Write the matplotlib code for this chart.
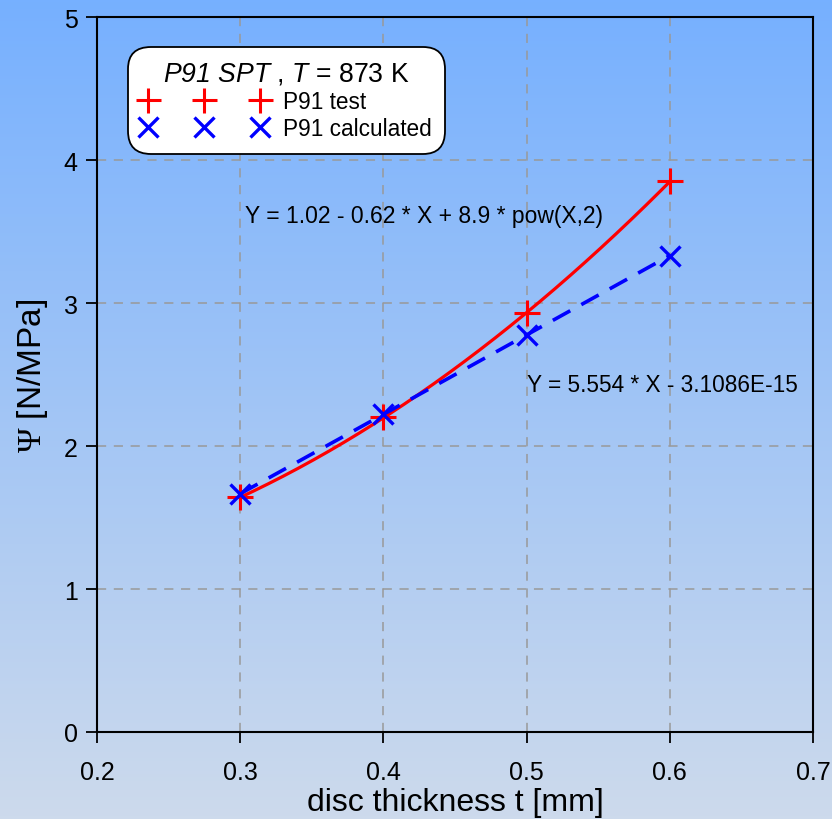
import numpy as np
import matplotlib
matplotlib.use('Agg')
import matplotlib.pyplot as plt
from matplotlib.lines import Line2D

# data
thickness = [0.3, 0.4, 0.5, 0.6]
psi_test = [1.64, 2.20, 2.93, 3.85]
psi_calc = [1.666, 2.222, 2.777, 3.332]

eq_test = 'Y = 1.02 - 0.62 * X + 8.9 * pow(X,2)'
eq_calc = 'Y = 5.554 * X - 3.1086E-15'

x_ticks = [0.2, 0.3, 0.4, 0.5, 0.6, 0.7]
y_ticks = [0, 1, 2, 3, 4, 5]

plt.rcParams['font.family'] = ['Liberation Sans', 'DejaVu Sans']
plt.rcParams['mathtext.fontset'] = 'custom'
plt.rcParams['mathtext.rm'] = 'Liberation Sans'
plt.rcParams['mathtext.it'] = 'Liberation Sans:italic'
# used for the italic title (digits stay italic this way)
plt.rcParams['mathtext.bf'] = 'Liberation Sans:italic'
plt.rcParams['mathtext.sf'] = 'Liberation Serif'

fig = plt.figure(figsize=(8.32, 8.2), dpi=100)

# background gradient over the whole figure
bg = fig.add_axes([0, 0, 1, 1], zorder=-10)
top = np.array([118, 176, 255]) / 255
bottom = np.array([205, 218, 236]) / 255
t = np.linspace(0, 1, 256)[:, None]
grad = top * (1 - t) + bottom * t
bg.imshow(grad[:, None, :], aspect='auto', extent=[0, 1, 0, 1])
bg.axis('off')

ax = fig.add_axes([0.1166, 0.1061, 0.8606, 0.8719])
ax.set_facecolor('none')

# fitted curves through the points
xs = np.linspace(thickness[0], thickness[-1], 200)
p2 = np.polyfit(thickness, psi_test, 2)
p1 = np.polyfit(thickness, psi_calc, 1)
ax.plot(xs, np.polyval(p2, xs), color='red', lw=2.3, zorder=3)
ax.plot(xs, np.polyval(p1, xs), color='#0000ff', lw=2.6, ls=(0, (5.5, 3.5)), zorder=3)

ax.plot(thickness, psi_test, ls='none', marker='+', ms=19, mew=2.2, color='red', zorder=4)
ax.plot(thickness, psi_calc, ls='none', marker='x', ms=15, mew=2.4, color='#0000ff', zorder=4)

ax.text(0.3034, 3.615, eq_test, fontsize=16.5, va='center', ha='left')
ax.text(0.5003, 2.43, eq_calc, fontsize=16.3, va='center', ha='left')

ax.set_xlim(0.2, 0.7)
ax.set_ylim(0, 5)
ax.set_xticks(x_ticks)
ax.set_yticks(y_ticks)
ax.set_xticklabels([f'{v:.1f}' for v in x_ticks], fontsize=18)
ax.set_yticklabels([str(v) for v in y_ticks], fontsize=18)
ax.tick_params(direction='out', length=8, width=1.3)
ax.tick_params(axis='x', pad=12)
ax.tick_params(axis='y', pad=6)
ax.grid(True, color='#999999', ls=(0, (6, 5)), lw=1.1)
ax.set_axisbelow(True)
for s in ax.spines.values():
    s.set_linewidth(1.5)

ax.set_xlabel('disc thickness t [mm]', fontsize=23, labelpad=2)
ax.set_ylabel(r'$\mathsf{\Psi}$ [N/MPa]', fontsize=24, labelpad=10)

handles = [
    Line2D([], [], ls='none', marker='+', ms=18, mew=2.2, color='red'),
    Line2D([], [], ls='none', marker='x', ms=14, mew=2.4, color='#0000ff'),
]
leg = ax.legend(handles, ['P91 test', 'P91 calculated'], numpoints=3,
                title=r'$\mathbf{P91\ SPT}$ , $\mathbf{T}$ = 873 K',
                loc='upper left', bbox_to_anchor=(0.037, 0.965),
                fontsize=16.3, title_fontsize=19.2, handlelength=5.55,
                handletextpad=0.7, labelspacing=0.18, borderpad=0.3,
                fancybox=True, framealpha=1, edgecolor='black')
leg.get_frame().set_linewidth(1.3)
leg.get_frame().set_boxstyle('round', pad=0.3, rounding_size=1.0)

fig.savefig('out.png', dpi=100)
